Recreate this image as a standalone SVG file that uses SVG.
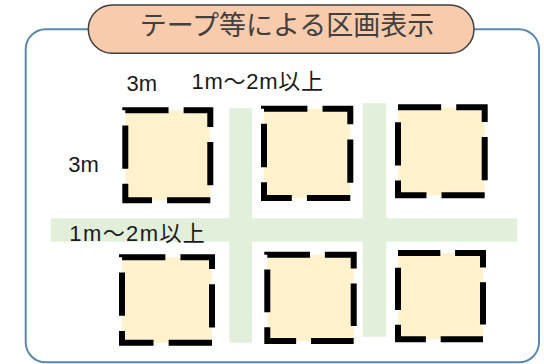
<svg xmlns="http://www.w3.org/2000/svg" width="544" height="364" viewBox="0 0 544 364">
<style>
.band{fill:#E2EFDA}
.plot{fill:#FFF2CC;stroke:#000;stroke-width:6;stroke-dasharray:43 15}
.lbl{font-family:"Liberation Sans","Noto Sans CJK JP",sans-serif;font-size:22px;fill:#1a1a1a}
.title{font-family:"Noto Sans CJK JP","Noto Sans CJK SC",sans-serif;font-size:27px;fill:#404040}
</style>
<rect width="544" height="364" fill="#fff"/>
<g id="frame">
<rect x="25.7" y="29.3" width="513.3" height="333" rx="20" ry="20" fill="none" stroke="#5A86B4" stroke-width="2"/>
</g>
<g id="title">
<rect x="88.3" y="5" width="385.7" height="48.3" rx="24.1" ry="24.1" fill="#F8CBAD" stroke="#404040" stroke-width="1.5"/>
<text class="title" x="287" y="35" text-anchor="middle">テープ等による区画表示</text>
</g>
<g id="aisles">
<rect class="band" x="50.7" y="218.3" width="466.6" height="23.4"/>
<rect class="band" x="229.3" y="108.3" width="22.7" height="234.4"/>
<rect class="band" x="362.7" y="103.3" width="23.6" height="233.4"/>
</g>
<g id="plots">
<rect id="plot1" class="plot" x="125.3" y="110.3" width="85" height="90" pathLength="348"/>
<rect id="plot2" class="plot" x="264" y="108.7" width="86.3" height="89.3" pathLength="348"/>
<rect id="plot3" class="plot" x="398" y="107.3" width="86.7" height="88" pathLength="348"/>
<rect id="plot4" class="plot" x="122" y="257.3" width="90" height="85.4" pathLength="348"/>
<rect id="plot5" class="plot" x="267.3" y="254.7" width="86.4" height="86.3" pathLength="348"/>
<rect id="plot6" class="plot" x="398" y="253" width="85" height="86.3" pathLength="348"/>
</g>
<g id="labels">
<text class="lbl" x="126.5" y="91">3m</text>
<text class="lbl" x="191.5" y="89.3" textLength="131.5" lengthAdjust="spacing">1m～2m以上</text>
<text class="lbl" x="68.3" y="171.5">3m</text>
<text class="lbl" x="69.3" y="240.7" textLength="135.5" lengthAdjust="spacing">1m～2m以上</text>
</g>
</svg>
